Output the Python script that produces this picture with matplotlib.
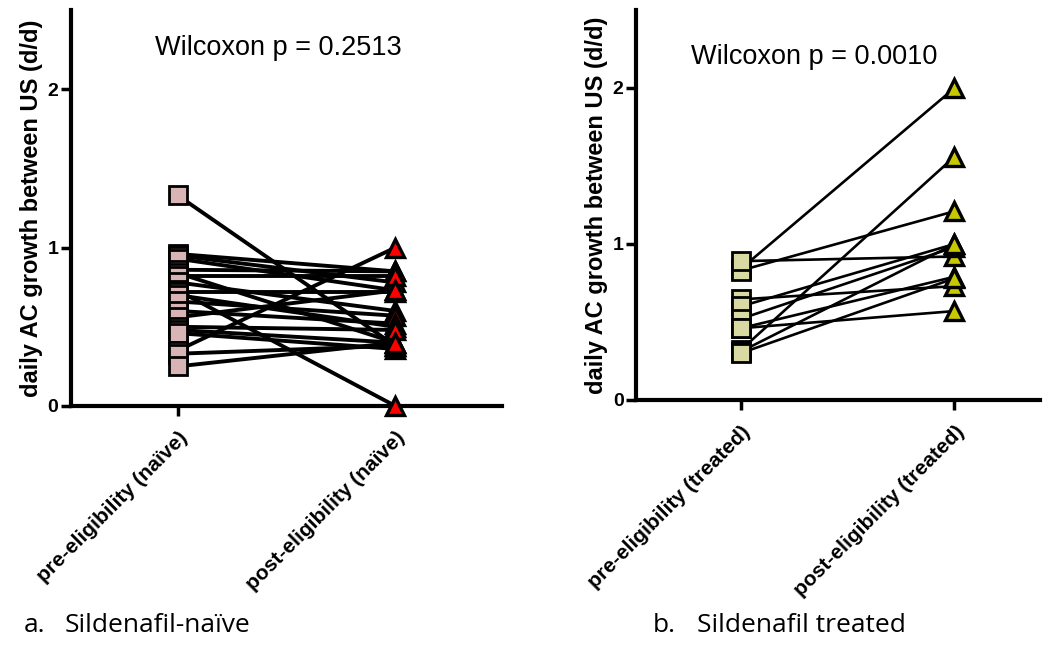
import matplotlib
matplotlib.use('Agg')
from matplotlib import pyplot as plt

# data
groups_naive = ['pre-eligibility (naïve)', 'post-eligibility (naïve)']
pre_naive = [1.33, 0.96, 0.95, 0.93, 0.86, 0.84, 0.82, 0.78, 0.73, 0.72,
             0.70, 0.66, 0.60, 0.56, 0.50, 0.48, 0.46, 0.35, 0.33, 0.25]
post_naive = [0.38, 0.85, 0.78, 0.73, 0.85, 0.40, 0.82, 0.60, 0.00, 0.72,
              0.50, 0.57, 0.52, 0.73, 0.48, 0.40, 0.36, 1.00, 0.38, 0.40]

groups_treated = ['pre-eligibility (treated)', 'post-eligibility (treated)']
pre_treated = [0.84, 0.32, 0.83, 0.89, 0.645, 0.60, 0.52, 0.46, 0.46, 0.31, 0.30]
post_treated = [2.00, 1.56, 1.21, 0.92, 0.73, 1.00, 0.98, 0.57, 0.79, 1.00, 0.78]

p_naive = 'Wilcoxon p = 0.2513'
p_treated = 'Wilcoxon p = 0.0010'
ylabel = 'daily AC growth between US (d/d)'

plt.rcParams['font.family'] = ['Liberation Sans', 'DejaVu Sans']

fig = plt.figure(figsize=(10.52, 6.46), dpi=100)


def paired_panel(ax, pre, post, groups, ptext, sq_color, tri_color, lw, xmax, ptext_xy):
    for a, b in zip(pre, post):
        ax.plot([0, 1], [a, b], color='black', lw=lw, zorder=2, solid_capstyle='butt')
    ax.plot([0] * len(pre), pre, ls='none', marker='s', ms=13, mfc=sq_color,
            mec='black', mew=2.0, zorder=3, clip_on=False)
    ax.plot([1] * len(post), post, ls='none', marker='^', ms=12.5, mfc=tri_color,
            mec='black', mew=2.4, zorder=3, clip_on=False)
    ax.set_xlim(-0.49, xmax)
    ax.set_ylim(0, 2.5)
    ax.set_yticks([0, 1, 2])
    ax.set_yticklabels(['0', '1', '2'], fontsize=14, fontweight='bold')
    ax.set_xticks([0, 1])
    ax.set_xticklabels(groups, rotation=45, ha='right', rotation_mode='anchor',
                       fontsize=15, fontweight='bold')
    ax.set_ylabel(ylabel, fontsize=17, fontweight='bold', labelpad=3)
    for s in ['top', 'right']:
        ax.spines[s].set_visible(False)
    for s in ['left', 'bottom']:
        ax.spines[s].set_linewidth(3)
    ax.tick_params(axis='both', width=2.5, length=7, pad=2)
    ax.tick_params(axis='x', pad=9)
    ax.text(ptext_xy[0], ptext_xy[1], ptext, transform=ax.transAxes, ha='center',
            va='center', fontsize=19.5)


ax1 = fig.add_axes([71 / 1052, 240 / 646, 431 / 1052, 396 / 646])
paired_panel(ax1, pre_naive, post_naive, groups_naive, p_naive,
             '#d8b4b4', '#ff0000', 2.8, 1.49, (0.48, 0.905))

ax2 = fig.add_axes([636 / 1052, 246 / 646, 404 / 1052, 390 / 646])
paired_panel(ax2, pre_treated, post_treated, groups_treated, p_treated,
             '#d9d9a3', '#c8c800', 1.9, 1.40, (0.44, 0.88))

cap_font = ['Open Sans', 'DejaVu Sans']
cap_y = 1 - 626 / 646
fig.text(24 / 1052, cap_y, 'a.', fontsize=19, family=cap_font, va='center')
fig.text(65 / 1052, cap_y, 'Sildenafil-naïve', fontsize=19, family=cap_font, va='center')
fig.text(653 / 1052, cap_y, 'b.', fontsize=19, family=cap_font, va='center')
fig.text(697 / 1052, cap_y, 'Sildenafil treated', fontsize=19, family=cap_font, va='center')

plt.savefig('out.png', dpi=100)
plt.close()
